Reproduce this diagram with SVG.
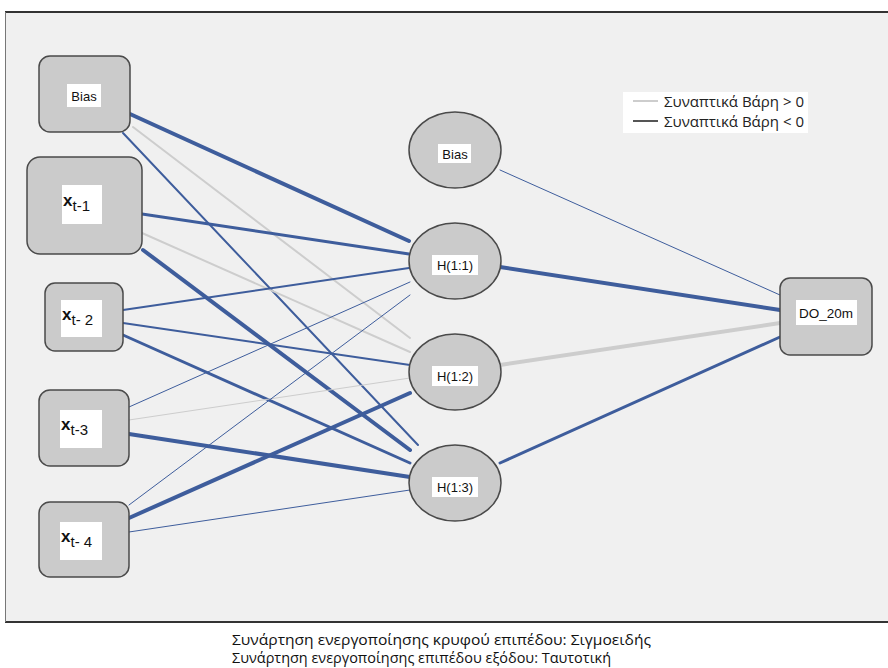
<svg xmlns="http://www.w3.org/2000/svg" width="888" height="668" viewBox="0 0 888 668">
<style>
.bg{fill:#f0f0f0}
.node{fill:#cbcbcb;stroke:#4a4a4a;stroke-width:1.5}
.lab{fill:#ffffff}
.t{font-family:"Liberation Sans",Arial,sans-serif;font-size:13px;fill:#111;text-anchor:middle;dominant-baseline:central}
.x{font-family:"Liberation Sans",Arial,sans-serif;font-size:17px;font-weight:bold;fill:#111}
.s{font-family:"Liberation Sans",Arial,sans-serif;font-size:15px;fill:#111}
.neg{stroke:#3e5d9c;fill:none;stroke-linecap:round}
.pos{stroke:#cdcdcd;fill:none;stroke-linecap:round}
.w1{stroke-width:1}
.w2{stroke-width:2}
.w3{stroke-width:3}
.w4{stroke-width:4}
.cap{font-family:"Open Sans","Noto Sans",sans-serif;font-size:14.5px;fill:#111}
.leg{font-family:"Open Sans","Noto Sans",sans-serif;font-size:14px;fill:#222;dominant-baseline:central}
</style>
<rect x="0" y="0" width="888" height="668" fill="#ffffff"/>
<rect class="bg" x="5.5" y="12.5" width="884" height="609"/>
<line x1="5" y1="12" x2="888" y2="12" stroke="#333" stroke-width="2"/>
<line x1="5" y1="622" x2="888" y2="622" stroke="#333" stroke-width="2"/>
<line x1="5.5" y1="12" x2="5.5" y2="622" stroke="#777" stroke-width="1"/>

<g id="connectors">
<line class="neg w4" x1="130" y1="114" x2="409" y2="241"/>
<line class="pos w2" x1="133" y1="127" x2="410" y2="338"/>
<line class="neg w2" x1="123" y1="133" x2="418" y2="445"/>
<line class="neg w3" x1="142" y1="214" x2="409" y2="254"/>
<line class="pos w2" x1="142" y1="233" x2="410" y2="352"/>
<line class="neg w4" x1="143" y1="250" x2="410" y2="450"/>
<line class="neg w2" x1="123" y1="310" x2="409" y2="268"/>
<line class="neg w2" x1="123" y1="323" x2="410" y2="365"/>
<line class="neg w3" x1="123" y1="335" x2="410" y2="463"/>
<line class="neg w1" x1="129" y1="407" x2="410" y2="282"/>
<line class="pos w1" x1="129" y1="420" x2="410" y2="378"/>
<line class="neg w4" x1="129" y1="434" x2="410" y2="477"/>
<line class="neg w1" x1="129" y1="505" x2="410" y2="295"/>
<line class="neg w4" x1="129" y1="518" x2="410" y2="393"/>
<line class="neg w1" x1="129" y1="532" x2="410" y2="490"/>
<line class="neg w1" x1="500" y1="170" x2="780" y2="295"/>
<line class="neg w4" x1="500" y1="267" x2="780" y2="310"/>
<line class="pos w4" x1="500" y1="365" x2="780" y2="323"/>
<line class="neg w3" x1="500" y1="463" x2="780" y2="337"/>
</g>

<g id="in_bias">
<rect class="node" x="39" y="56" width="91" height="76" rx="11"/>
<rect class="lab" x="67" y="84" width="34" height="23"/>
<text class="t" x="84" y="96">Bias</text>
</g>
<g id="in_xt1">
<rect class="node" x="27" y="157" width="115" height="97" rx="13"/>
<rect class="lab" x="62" y="185" width="40" height="39"/>
<text x="63" y="206"><tspan class="x">x</tspan><tspan class="s" dy="5">t-1</tspan></text>
</g>
<g id="in_xt2">
<rect class="node" x="45" y="283" width="78" height="68" rx="10"/>
<rect class="lab" x="61" y="300" width="41" height="37"/>
<text x="62" y="320"><tspan class="x">x</tspan><tspan class="s" dy="5">t- 2</tspan></text>
</g>
<g id="in_xt3">
<rect class="node" x="39" y="390" width="90" height="76" rx="11"/>
<rect class="lab" x="60" y="410" width="42" height="38"/>
<text x="61" y="430"><tspan class="x">x</tspan><tspan class="s" dy="5">t-3</tspan></text>
</g>
<g id="in_xt4">
<rect class="node" x="39" y="502" width="90" height="75" rx="11"/>
<rect class="lab" x="60" y="522" width="42" height="38"/>
<text x="61" y="542"><tspan class="x">x</tspan><tspan class="s" dy="5">t- 4</tspan></text>
</g>

<g id="h_bias">
<ellipse class="node" cx="455" cy="150" rx="46" ry="38"/>
<rect class="lab" x="438" y="144" width="33" height="19"/>
<text class="t" x="455" y="154">Bias</text>
</g>
<g id="h11">
<ellipse class="node" cx="455" cy="261" rx="46" ry="38"/>
<rect class="lab" x="432" y="255" width="46" height="20"/>
<text class="t" x="455" y="265">H(1:1)</text>
</g>
<g id="h12">
<ellipse class="node" cx="455" cy="372" rx="46" ry="38"/>
<rect class="lab" x="432" y="366" width="46" height="20"/>
<text class="t" x="455" y="376">H(1:2)</text>
</g>
<g id="h13">
<ellipse class="node" cx="455" cy="483" rx="46" ry="38"/>
<rect class="lab" x="432" y="477" width="46" height="20"/>
<text class="t" x="455" y="487">H(1:3)</text>
</g>

<g id="out_do">
<rect class="node" x="780" y="278" width="92" height="77" rx="10"/>
<rect class="lab" x="796" y="300" width="61" height="25"/>
<text class="t" x="826" y="313" style="font-size:13.5px">DO_20m</text>
</g>

<g id="legend">
<rect x="623" y="92" width="185" height="41" fill="#ffffff"/>
<line x1="633" y1="101" x2="658" y2="101" stroke="#cdcdcd" stroke-width="2"/>
<line x1="633" y1="121" x2="658" y2="121" stroke="#555" stroke-width="2"/>
<text class="leg" x="664" y="101" textLength="140" lengthAdjust="spacingAndGlyphs">Συναπτικά Βάρη &gt; 0</text>
<text class="leg" x="664" y="121" textLength="140" lengthAdjust="spacingAndGlyphs">Συναπτικά Βάρη &lt; 0</text>
</g>

<g id="caption">
<text class="cap" x="232" y="645" textLength="419" lengthAdjust="spacingAndGlyphs">Συνάρτηση ενεργοποίησης κρυφού επιπέδου: Σιγμοειδής</text>
<text class="cap" x="232" y="663" textLength="379" lengthAdjust="spacingAndGlyphs">Συνάρτηση ενεργοποίησης επιπέδου εξόδου: Ταυτοτική</text>
</g>
</svg>
